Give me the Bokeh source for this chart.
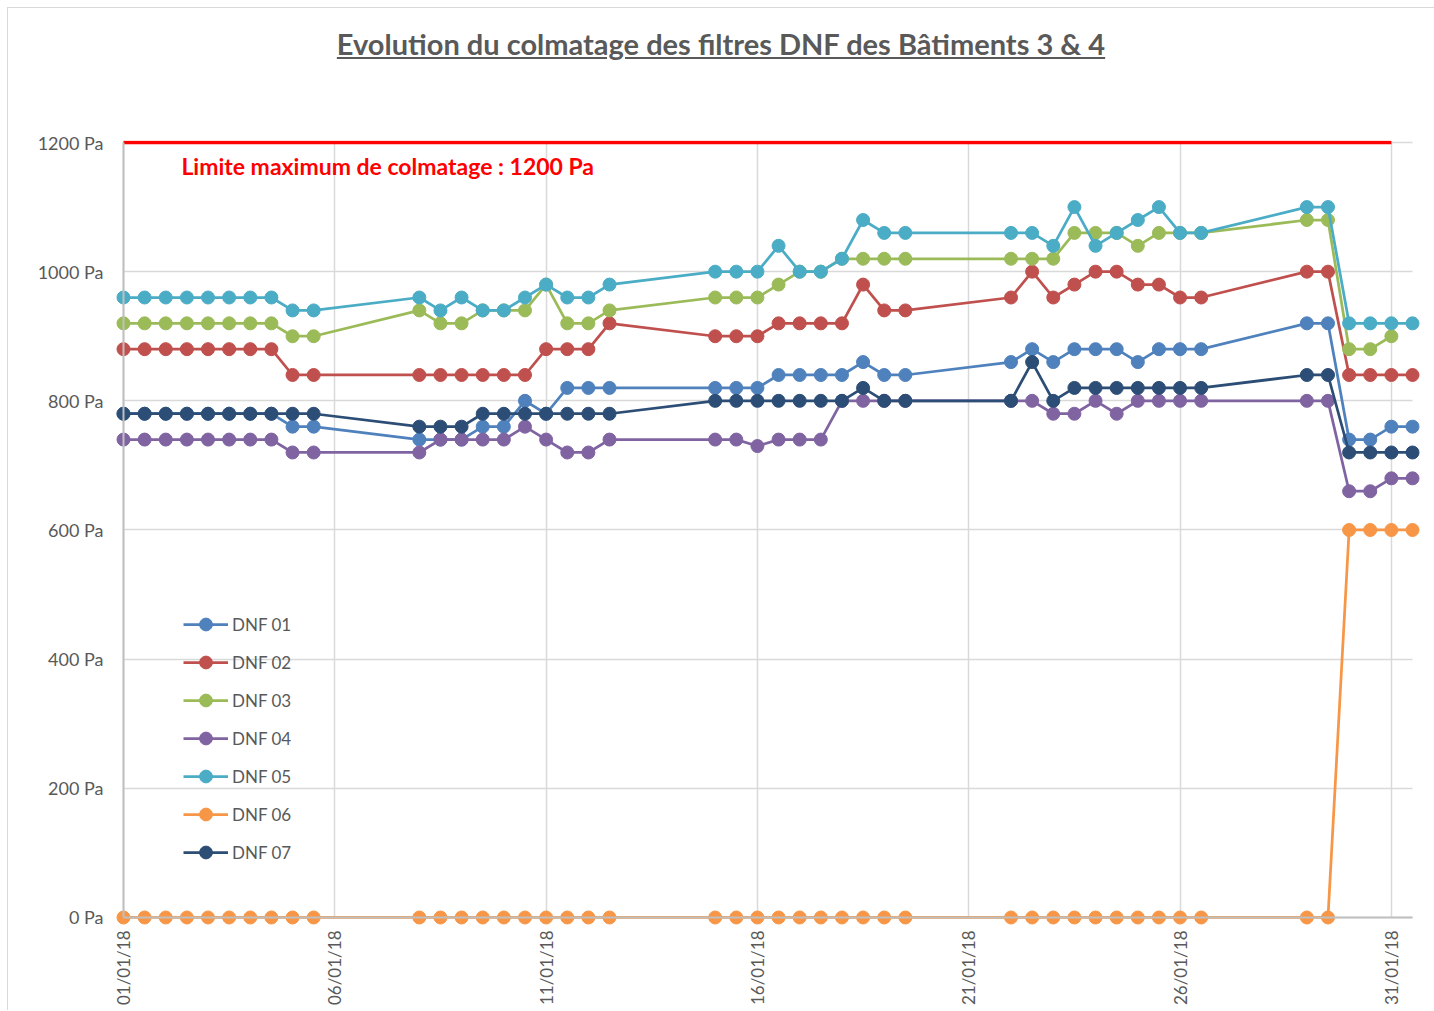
import math
from bokeh.plotting import figure
from bokeh.models import (Range1d, FixedTicker, PrintfTickFormatter, Label,
                          Legend, LegendItem, Div, LinearAxis)
from bokeh.layouts import column
from bokeh.embed import file_html
from bokeh.resources import INLINE

# ---- data -------------------------------------------------------------
# day of January 2018 (two readings a day)
days = [1, 1.5, 2, 2.5, 3, 3.5, 4, 4.5, 5, 5.5,
        8, 8.5, 9, 9.5, 10, 10.5, 11, 11.5, 12, 12.5,
        15, 15.5, 16, 16.5, 17, 17.5, 18, 18.5, 19, 19.5,
        22, 22.5, 23, 23.5, 24, 24.5, 25, 25.5, 26, 26.5,
        29, 29.5, 30, 30.5, 31, 31.5]

dnf01 = [780, 780, 780, 780, 780, 780, 780, 780, 760, 760,
         740, 740, 740, 760, 760, 800, 780, 820, 820, 820,
         820, 820, 820, 840, 840, 840, 840, 860, 840, 840,
         860, 880, 860, 880, 880, 880, 860, 880, 880, 880,
         920, 920, 740, 740, 760, 760]
dnf02 = [880, 880, 880, 880, 880, 880, 880, 880, 840, 840,
         840, 840, 840, 840, 840, 840, 880, 880, 880, 920,
         900, 900, 900, 920, 920, 920, 920, 980, 940, 940,
         960, 1000, 960, 980, 1000, 1000, 980, 980, 960, 960,
         1000, 1000, 840, 840, 840, 840]
dnf03 = [920, 920, 920, 920, 920, 920, 920, 920, 900, 900,
         940, 920, 920, 940, 940, 940, 980, 920, 920, 940,
         960, 960, 960, 980, 1000, 1000, 1020, 1020, 1020, 1020,
         1020, 1020, 1020, 1060, 1060, 1060, 1040, 1060, 1060, 1060,
         1080, 1080, 880, 880, 900, float("nan")]
dnf04 = [740, 740, 740, 740, 740, 740, 740, 740, 720, 720,
         720, 740, 740, 740, 740, 760, 740, 720, 720, 740,
         740, 740, 730, 740, 740, 740, 800, 800, 800, 800,
         800, 800, 780, 780, 800, 780, 800, 800, 800, 800,
         800, 800, 660, 660, 680, 680]
dnf05 = [960, 960, 960, 960, 960, 960, 960, 960, 940, 940,
         960, 940, 960, 940, 940, 960, 980, 960, 960, 980,
         1000, 1000, 1000, 1040, 1000, 1000, 1020, 1080, 1060, 1060,
         1060, 1060, 1040, 1100, 1040, 1060, 1080, 1100, 1060, 1060,
         1100, 1100, 920, 920, 920, 920]
dnf06 = [0, 0, 0, 0, 0, 0, 0, 0, 0, 0,
         0, 0, 0, 0, 0, 0, 0, 0, 0, 0,
         0, 0, 0, 0, 0, 0, 0, 0, 0, 0,
         0, 0, 0, 0, 0, 0, 0, 0, 0, 0,
         0, 0, 600, 600, 600, 600]
dnf07 = [780, 780, 780, 780, 780, 780, 780, 780, 780, 780,
         760, 760, 760, 780, 780, 780, 780, 780, 780, 780,
         800, 800, 800, 800, 800, 800, 800, 820, 800, 800,
         800, 860, 800, 820, 820, 820, 820, 820, 820, 820,
         840, 840, 720, 720, 720, 720]

series_names = ["DNF 01", "DNF 02", "DNF 03", "DNF 04", "DNF 05", "DNF 06", "DNF 07"]
series_values = [dnf01, dnf02, dnf03, dnf04, dnf05, dnf06, dnf07]
series_colors = ["#4F81BD", "#C0504D", "#9BBB59", "#8064A2", "#4BACC6", "#F79646", "#2C4D75"]

tick_days = [1, 6, 11, 16, 21, 26, 31]
tick_labels = ["01/01/18", "06/01/18", "11/01/18", "16/01/18", "21/01/18", "26/01/18", "31/01/18"]
y_ticks = [0, 200, 400, 600, 800, 1000, 1200]

limit_days = [1, 31]
limit_pa = [1200, 1200]

title_text = "Evolution du colmatage des filtres DNF des Bâtiments 3 &amp; 4"
limit_text = "Limite maximum de colmatage : 1200 Pa"

FONT = "Lato"
GREY = "#595959"

# ---- figure -----------------------------------------------------------
title = Div(
    text=('<div style="width:1419px;text-align:center;padding-top:18px;padding-left:7px;'
          f'font-family:{FONT};font-size:29px;font-weight:bold;color:{GREY};'
          'text-decoration:underline;line-height:36px;">' + title_text + '</div>'),
    width=1426, height=72, margin=(0, 0, 0, 0))

# the plot area is a little wider/taller than the data so that edge markers are not cut
p = figure(width=1426, height=930,
           x_range=Range1d(0.74, 31.76), y_range=Range1d(-12.4, 1203.1),
           output_backend="svg", toolbar_location=None,
           min_border_left=104, min_border_right=11,
           min_border_top=60, min_border_bottom=85)
p.outline_line_color = None

# label axes (at the frame edges, no line)
p.xaxis.ticker = FixedTicker(ticks=tick_days)
p.xaxis.major_label_overrides = {d: l for d, l in zip(tick_days, tick_labels)}
p.xaxis.major_label_orientation = math.pi / 2
p.xaxis.major_label_text_font = FONT
p.xaxis.major_label_text_font_size = "17px"
p.xaxis.major_label_text_color = GREY
p.xaxis.major_label_standoff = 5
p.xaxis.axis_line_color = None
p.xaxis.major_tick_line_color = None
p.xaxis.minor_tick_line_color = None
p.xaxis.major_tick_out = 0
p.xaxis.major_tick_in = 0
p.xaxis.minor_tick_out = 0

p.yaxis.ticker = FixedTicker(ticks=y_ticks)
p.yaxis.formatter = PrintfTickFormatter(format="%d Pa")
p.yaxis.major_label_text_font = FONT
p.yaxis.major_label_text_font_size = "18px"
p.yaxis.major_label_text_color = GREY
p.yaxis.major_label_standoff = 9
p.yaxis.axis_line_color = None
p.yaxis.major_tick_line_color = None
p.yaxis.minor_tick_line_color = None
p.yaxis.major_tick_out = 0
p.yaxis.major_tick_in = 0
p.yaxis.minor_tick_out = 0

# axis lines at 0 Pa and 01/01 (Excel-like), without labels
x_line = LinearAxis(ticker=FixedTicker(ticks=[]), fixed_location=0, bounds=(1, 31.5),
                    axis_line_color="#BFBFBF", axis_line_width=2,
                    major_tick_out=0, major_tick_in=0, minor_tick_out=0,
                    major_tick_line_color=None, minor_tick_line_color=None)
y_line = LinearAxis(ticker=FixedTicker(ticks=[]), fixed_location=1, bounds=(0, 1200),
                    axis_line_color="#BFBFBF", axis_line_width=2,
                    major_tick_out=0, major_tick_in=0, minor_tick_out=0,
                    major_tick_line_color=None, minor_tick_line_color=None)
p.add_layout(x_line, "below")
p.add_layout(y_line, "left")

p.xgrid.ticker = FixedTicker(ticks=tick_days)
p.ygrid.ticker = FixedTicker(ticks=y_ticks)
p.xgrid.grid_line_color = "#D9D9D9"
p.ygrid.grid_line_color = "#D9D9D9"
p.xgrid.grid_line_width = 1.5
p.ygrid.grid_line_width = 1.5
try:
    p.xgrid.cross_bounds = (0, 1200)
    p.ygrid.cross_bounds = (1, 31.5)
except Exception:
    pass

items = []
for name, vals, col in zip(series_names, series_values, series_colors):
    rl = p.line(days, vals, line_color=col, line_width=2.75)
    rs = p.scatter(days, vals, marker="circle", size=13, fill_color=col,
                   line_color=col)
    items.append(LegendItem(label=name, renderers=[rl, rs]))

p.line(limit_days, limit_pa, line_color="#FF0000", line_width=3.5)

p.add_layout(Label(x=2.37, y=1164, text=limit_text, text_color="#FF0000",
                   text_font=FONT, text_font_style="bold",
                   text_font_size="23px", text_baseline="middle"))

legend = Legend(items=items, location=(71, 57), orientation="vertical",
                glyph_width=45, glyph_height=32, label_height=32, spacing=6,
                padding=0, margin=0, label_standoff=4,
                label_text_font=FONT, label_text_font_size="17px",
                label_text_color=GREY,
                background_fill_alpha=0, border_line_alpha=0)
p.add_layout(legend)

layout = column(title, p, spacing=0,
                styles={"margin-left": "7px", "margin-top": "7px",
                        "border-left": "1px solid #D9D9D9",
                        "border-top": "1px solid #D9D9D9"})
open("out.html", "w").write(file_html(layout, INLINE))
